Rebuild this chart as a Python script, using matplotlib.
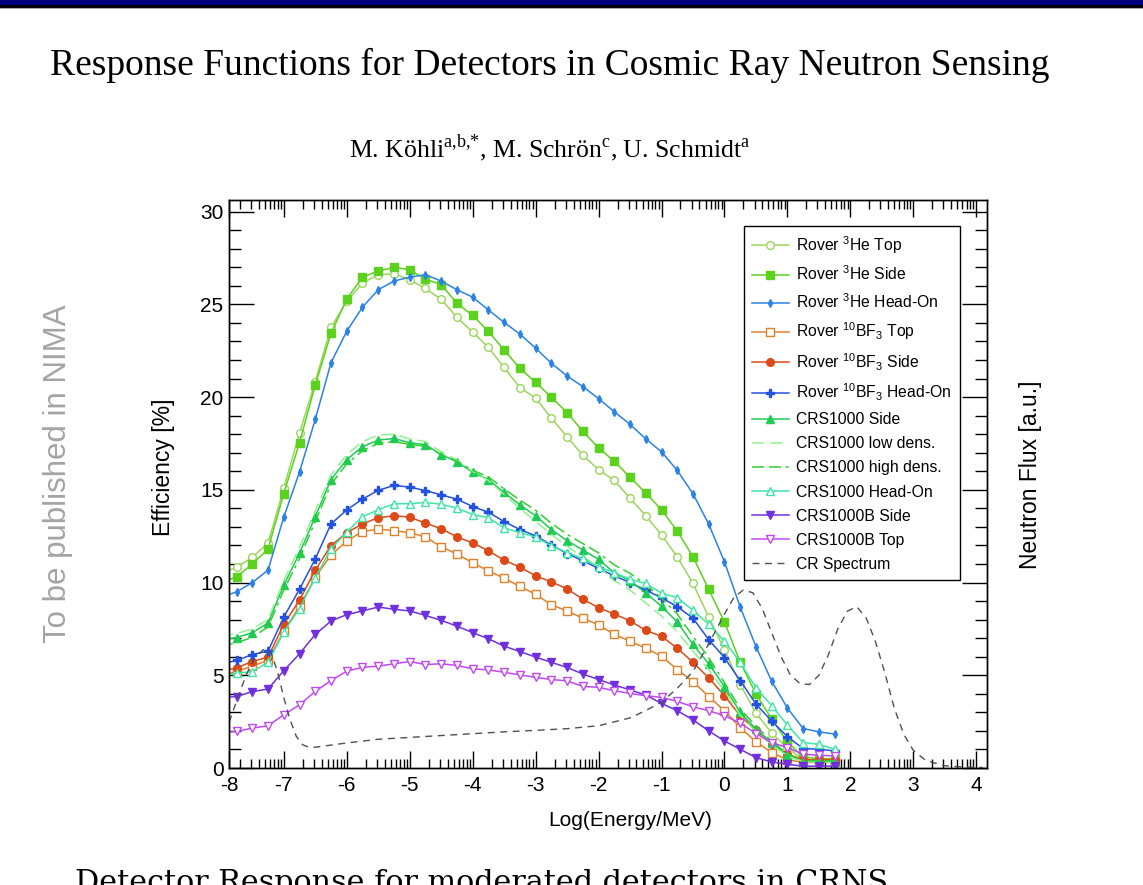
import matplotlib
matplotlib.use('Agg')
import matplotlib.pyplot as plt
import numpy as np
from matplotlib.patches import Rectangle

plt.rcParams['font.family'] = ['Liberation Sans', 'DejaVu Sans']
plt.rcParams['mathtext.fontset'] = 'custom'
plt.rcParams['mathtext.rm'] = 'Liberation Serif'
plt.rcParams['mathtext.sf'] = 'Liberation Sans'

# log10(E/MeV) grid of the simulated response points
log_energy = [-8.0, -7.75, -7.5, -7.25, -7.0, -6.75, -6.5, -6.25, -6.0, -5.75,
              -5.5, -5.25, -5.0, -4.75, -4.5, -4.25, -4.0, -3.75, -3.5, -3.25,
              -3.0, -2.75, -2.5, -2.25, -2.0, -1.75, -1.5, -1.25, -1.0, -0.75,
              -0.5, -0.25, 0.0, 0.25, 0.5, 0.75, 1.0, 1.25, 1.5, 1.75]

he_top = [10.5, 10.82, 11.36, 12.12, 15.1, 18.06, 20.84, 23.76, 25.17, 26.15,
          26.6, 26.65, 26.33, 25.86, 25.28, 24.3, 23.51, 22.68, 21.6, 20.51,
          19.95, 18.87, 17.86, 16.86, 16.09, 15.51, 14.54, 13.61, 12.57, 11.39,
          9.95, 8.14, 6.38, 4.5, 2.96, 1.88, 1.1, 0.45, 0.4, 0.35]
he_side = [10.0, 10.31, 11.0, 11.8, 14.8, 17.55, 20.65, 23.44, 25.28, 26.47,
           26.8, 27.0, 26.87, 26.36, 26.07, 25.06, 24.41, 23.55, 22.54, 21.56,
           20.79, 20.0, 19.16, 18.16, 17.26, 16.54, 15.68, 14.83, 13.92, 12.78,
           11.39, 9.63, 7.87, 5.7, 3.99, 2.64, 1.4, 0.6, 0.5, 0.5]
he_head = [9.2, 9.5, 10.0, 10.67, 13.53, 15.96, 18.8, 21.85, 23.55, 24.85,
           25.79, 26.26, 26.47, 26.6, 26.26, 25.79, 25.39, 24.7, 24.03, 23.4,
           22.64, 21.83, 21.14, 20.57, 19.92, 19.21, 18.53, 17.75, 17.05, 16.05,
           14.79, 13.15, 11.12, 8.68, 6.55, 4.68, 3.23, 2.13, 1.95, 1.83]
bf_top = [5.0, 5.2, 5.5, 5.8, 7.38, 8.72, 10.28, 11.48, 12.24, 12.75,
          12.88, 12.8, 12.69, 12.46, 11.93, 11.54, 11.07, 10.63, 10.24, 9.79,
          9.37, 8.8, 8.47, 8.08, 7.72, 7.2, 6.84, 6.46, 6.03, 5.31,
          4.66, 3.85, 3.09, 2.18, 1.42, 0.83, 0.45, 0.3, 0.3, 0.3]
bf_side = [5.2, 5.4, 5.74, 5.98, 7.75, 9.05, 10.67, 11.99, 12.69, 13.16,
           13.5, 13.6, 13.53, 13.2, 12.91, 12.46, 12.14, 11.72, 11.2, 10.84,
           10.36, 10.04, 9.66, 9.1, 8.65, 8.3, 7.94, 7.42, 7.1, 6.46,
           5.7, 4.86, 3.9, 2.82, 2.04, 1.28, 0.75, 0.45, 0.45, 0.45]
bf_head = [5.6, 5.8, 6.12, 6.3, 8.14, 9.64, 11.27, 13.16, 13.92, 14.5,
           14.97, 15.24, 15.15, 14.96, 14.73, 14.5, 14.1, 13.79, 13.29, 12.86,
           12.52, 12.03, 11.56, 11.18, 10.76, 10.36, 10.0, 9.59, 9.18, 8.7,
           8.08, 6.92, 5.95, 4.71, 3.45, 2.53, 1.69, 1.05, 1.01, 0.92]
crs_side = [6.9, 7.03, 7.3, 7.82, 9.86, 11.58, 13.56, 15.55, 16.63, 17.33,
            17.68, 17.77, 17.54, 17.44, 16.9, 16.51, 15.95, 15.55, 14.86, 14.19,
            13.6, 12.86, 12.26, 11.76, 11.25, 10.53, 10.09, 9.44, 8.72, 7.87,
            6.66, 5.62, 4.39, 3.0, 2.1, 1.37, 0.69, 0.35, 0.35, 0.35]
crs_low = [7.1, 7.25, 7.5, 8.0, 10.1, 11.9, 13.85, 15.8, 16.9, 17.6,
           17.95, 18.0, 17.75, 17.6, 17.05, 16.6, 16.0, 15.5, 14.75, 14.0,
           13.3, 12.6, 11.95, 11.4, 10.85, 10.1, 9.6, 8.9, 8.2, 7.35,
           6.3, 5.3, 4.15, 2.85, 1.95, 1.25, 0.65, 0.35, 0.3, 0.3]
crs_high = [6.6, 6.75, 7.05, 7.6, 9.6, 11.3, 13.3, 15.3, 16.4, 17.1,
            17.5, 17.6, 17.45, 17.35, 16.9, 16.55, 16.05, 15.7, 15.05, 14.45,
            13.9, 13.2, 12.6, 12.1, 11.6, 10.95, 10.5, 9.9, 9.15, 8.3,
            7.1, 5.95, 4.6, 3.2, 2.25, 1.45, 0.75, 0.4, 0.4, 0.4]
crs_head = [5.0, 5.11, 5.2, 5.7, 7.33, 8.6, 10.25, 11.81, 12.71, 13.56,
            13.92, 14.25, 14.25, 14.32, 14.22, 14.01, 13.67, 13.5, 12.95, 12.69,
            12.46, 11.98, 11.62, 11.3, 10.85, 10.53, 10.18, 9.95, 9.43, 9.19,
            8.5, 7.75, 6.84, 5.7, 4.32, 3.36, 2.31, 1.37, 1.28, 1.01]
crsb_side = [3.8, 3.85, 4.12, 4.26, 5.25, 6.16, 7.2, 7.93, 8.27, 8.47,
             8.68, 8.56, 8.47, 8.23, 7.96, 7.65, 7.3, 6.97, 6.57, 6.28,
             5.98, 5.7, 5.42, 5.07, 4.77, 4.48, 4.21, 3.94, 3.48, 3.09,
             2.6, 2.0, 1.46, 1.01, 0.56, 0.33, 0.2, 0.1, 0.1, 0.1]
crsb_top = [1.9, 1.97, 2.15, 2.28, 2.87, 3.41, 4.13, 4.71, 5.22, 5.43,
            5.49, 5.62, 5.74, 5.58, 5.62, 5.53, 5.35, 5.29, 5.16, 5.02,
            4.89, 4.77, 4.7, 4.4, 4.35, 4.17, 4.02, 3.9, 3.81, 3.59,
            3.3, 3.09, 2.82, 2.42, 1.86, 1.37, 1.1, 0.74, 0.69, 0.65]

# cosmic ray neutron spectrum (arbitrary units, right axis)
cr_x = [-8.0, -7.75, -7.6, -7.45, -7.3, -7.2, -7.1, -7.0, -6.9, -6.8, -6.7, -6.6,
        -6.5, -6.0, -5.5, -5.0, -4.5, -4.0, -3.5, -3.0, -2.5, -2.0, -1.5, -1.25,
        -1.0, -0.75, -0.5, -0.25, 0.0, 0.15, 0.3, 0.45, 0.6, 0.75, 0.9, 1.05,
        1.2, 1.35, 1.5, 1.65, 1.8, 1.95, 2.1, 2.25, 2.4, 2.55, 2.7, 2.85, 3.0,
        3.2, 3.5, 3.8, 4.1]
cr_y = [1.2, 3.6, 5.0, 6.0, 6.45, 6.2, 5.2, 3.8, 2.6, 1.7, 1.25, 1.12,
        1.12, 1.35, 1.55, 1.65, 1.75, 1.85, 1.95, 2.03, 2.12, 2.28, 2.7, 3.1,
        3.55, 4.3, 5.2, 6.7, 8.3, 9.2, 9.6, 9.45, 8.6, 7.3, 6.0, 5.0,
        4.55, 4.5, 5.0, 6.1, 7.5, 8.45, 8.7, 8.1, 6.8, 5.1, 3.2, 1.8, 0.95,
        0.4, 0.12, 0.05, 0.03]

fig = plt.figure(figsize=(11.43, 8.85), dpi=100)

# slide decoration
H = 885.0
fig.add_artist(Rectangle((0, 1 - 5.5 / H), 1, 5.5 / H, transform=fig.transFigure,
                         color='#000080', lw=0))
fig.add_artist(Rectangle((0, 1 - 7.5 / H), 1, 2.0 / H, transform=fig.transFigure,
                         color='black', lw=0))
fig.add_artist(Rectangle((0, 1 - 8.5 / H), 1, 1.0 / H, transform=fig.transFigure,
                         color='#aaaaaa', lw=0))

serif = ['Liberation Serif', 'DejaVu Serif']
fig.text(50 / 1143, 1 - 65 / H, 'Response Functions for Detectors in Cosmic Ray Neutron Sensing',
         ha='left', va='center', fontsize=27, family=serif)
fig.text(550 / 1143, 1 - 148 / H,
         r'M. Köhli$^{\mathrm{a{,}b{,}{*}}}$, M. Schrön$^{\mathrm{c}}$, U. Schmidt$^{\mathrm{a}}$',
         ha='center', va='center', fontsize=18.5, family=serif)
fig.text(58 / 1143, 1 - 474 / H, 'To be published in NIMA', rotation=90,
         ha='center', va='center', fontsize=22.5, color='#a4a4a4')
fig.text(75 / 1143, 1 - 891 / H, 'Detector Response for moderated detectors in CRNS',
         ha='left', va='baseline', fontsize=21.7, family=['DejaVu Serif'])

ax = fig.add_axes([229 / 1143, 1 - 768 / H, 758 / 1143, 568 / H])
ax2 = ax.twinx()

styles = [
    (he_top, r'Rover $^{\mathsf{3}}$He Top', '#9ad65c', 'o', 'white', 5.5, '-'),
    (he_side, r'Rover $^{\mathsf{3}}$He Side', '#5cd21e', 's', None, 5.5, '-'),
    (he_head, r'Rover $^{\mathsf{3}}$He Head-On', '#2b82e6', 'd', None, 4, '-'),
    (bf_top, r'Rover $^{\mathsf{10}}$BF$_{\mathsf{3}}$ Top', '#e0822a', 's', 'white', 5.5, '-'),
    (bf_side, r'Rover $^{\mathsf{10}}$BF$_{\mathsf{3}}$ Side', '#dc4a18', 'o', None, 5.5, '-'),
    (bf_head, r'Rover $^{\mathsf{10}}$BF$_{\mathsf{3}}$ Head-On', '#2452e0', 'P', None, 6, '-'),
    (crs_side, 'CRS1000 Side', '#1fcb55', '^', None, 5.5, '-'),
    (crs_low, 'CRS1000 low dens.', '#8ff28f', None, None, 0, (0, (8, 4))),
    (crs_high, 'CRS1000 high dens.', '#2fd02f', None, None, 0, (0, (8, 3, 8, 3, 2, 3))),
    (crs_head, 'CRS1000 Head-On', '#3ee6a6', '^', 'white', 5.5, '-'),
    (crsb_side, 'CRS1000B Side', '#7030e0', 'v', None, 5.5, '-'),
    (crsb_top, 'CRS1000B Top', '#c048f5', 'v', 'white', 5.5, '-'),
]

handles = []
for vals, label, color, marker, mfc, ms, ls in styles:
    line, = ax.plot(log_energy, vals, color=color, lw=1.1, ls=ls, marker=marker,
                    ms=ms, mfc=mfc if mfc else color, mec=color, mew=1.0, label=label)
    handles.append(line)

cr_line, = ax2.plot(cr_x, cr_y, color='#505050', lw=1.0, ls=(0, (5, 4)), label='CR Spectrum')
handles.append(cr_line)

xmin, xmax = -7.87, 4.17
ax.set_xlim(xmin, xmax)
ax.set_ylim(0, 30.63)
ax2.set_ylim(0, 30.63)

major_x = [xmin] + list(range(-7, 5))
ax.set_xticks(major_x)
ax.set_xticklabels(['-8'] + [str(v) for v in range(-7, 5)])
minor_x = [k + np.log10(m) for k in range(-8, 4) for m in range(2, 10)]
ax.set_xticks([v for v in minor_x if xmin < v < xmax], minor=True)
ax.set_yticks(range(0, 31, 5))
ax.set_yticks(range(0, 31), minor=True)
ax2.set_yticks(range(0, 31, 5))
ax2.set_yticks(range(0, 31), minor=True)
ax2.set_yticklabels([])

ax.tick_params(axis='x', which='major', direction='in', length=12, width=1,
               top=True, bottom=True, labelsize=15, pad=6)
ax.tick_params(axis='x', which='minor', direction='in', length=6.5, width=1,
               top=True, bottom=True)
ax.tick_params(axis='y', which='major', direction='in', length=18, width=1,
               left=True, right=False, labelsize=15, pad=4)
ax.tick_params(axis='y', which='minor', direction='in', length=8.6, width=1,
               left=True, right=False)
ax2.tick_params(axis='y', which='major', direction='in', length=18, width=1, right=True)
ax2.tick_params(axis='y', which='minor', direction='in', length=9, width=1, right=True)

ax.set_xlabel('Log(Energy/MeV)', fontsize=15)
ax.xaxis.set_label_coords(0.529, -0.076)
ax.set_ylabel('Efficiency [%]', fontsize=16.5, va='center')
ax.yaxis.set_label_coords(-0.087, 0.53)
ax2.set_ylabel('Neutron Flux [a.u.]', fontsize=16.5, va='center', rotation=90)
ax2.yaxis.set_label_coords(1.057, 0.517)

for a in (ax, ax2):
    for s in a.spines.values():
        s.set_linewidth(1.0)

leg = ax2.legend(handles=handles, loc='upper left', bbox_to_anchor=(0.679, 0.954),
                 fontsize=11.3, frameon=True, fancybox=False, edgecolor='black',
                 framealpha=1, borderpad=0.5, labelspacing=0.58, handlelength=2.4,
                 handletextpad=0.45, borderaxespad=0)
leg.get_frame().set_linewidth(1.0)

fig.savefig('out.png', dpi=100)
